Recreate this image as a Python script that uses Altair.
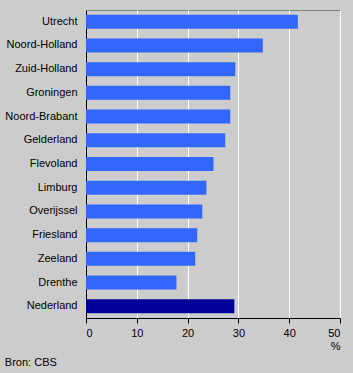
import altair as alt
import pandas as pd

provinces = ["Utrecht", "Noord-Holland", "Zuid-Holland", "Groningen", "Noord-Brabant",
             "Gelderland", "Flevoland", "Limburg", "Overijssel", "Friesland",
             "Zeeland", "Drenthe", "Nederland"]
values = [41.7, 34.8, 29.4, 28.4, 28.4, 27.4, 25.1, 23.7, 22.9, 21.9, 21.5, 17.8, 29.2]
groups = ["prov"] * 12 + ["nl"]

df = pd.DataFrame({"provincie": provinces, "waarde": values, "groep": groups})

FONT = "Liberation Sans"

chart = alt.Chart(df).mark_bar().encode(
    y=alt.Y("provincie:N", sort=None, title=None,
            scale=alt.Scale(paddingInner=0.41, paddingOuter=0.2),
            axis=alt.Axis(ticks=False, labelPadding=9, domainColor="black",
                          labelFont=FONT, labelFontSize=11, labelColor="black", grid=False)),
    x=alt.X("waarde:Q", title="%",
            scale=alt.Scale(domain=[0, 50], nice=False),
            axis=alt.Axis(values=[0, 10, 20, 30, 40, 50], tickSize=5, tickColor="black",
                          domainColor="black", gridColor="white", gridWidth=1,
                          labelFont=FONT, labelFontSize=11, labelColor="black",
                          titleFont=FONT, titleFontSize=11, titleFontWeight="normal",
                          titleColor="black", titleAnchor="end", titleAlign="right",
                          titlePadding=2, labelPadding=4)),
    color=alt.Color("groep:N", legend=None,
                    scale=alt.Scale(domain=["prov", "nl"], range=["#3366FF", "#000099"])),
).properties(
    width=254, height=308,
    background="#CCCCCC",
    padding={"left": 86, "top": 10, "right": 13, "bottom": 55},
    autosize=alt.AutoSizeParams(type="none"),
    title=alt.TitleParams("Bron: CBS", orient="bottom", anchor="start", frame="bounds",
                          font=FONT, fontSize=11, fontWeight="normal", color="black", offset=6),
).configure_view(
    stroke="#808080", fill="#CCCCCC"
)

chart.save("out.html", embed_options={"renderer": "svg", "actions": False})
